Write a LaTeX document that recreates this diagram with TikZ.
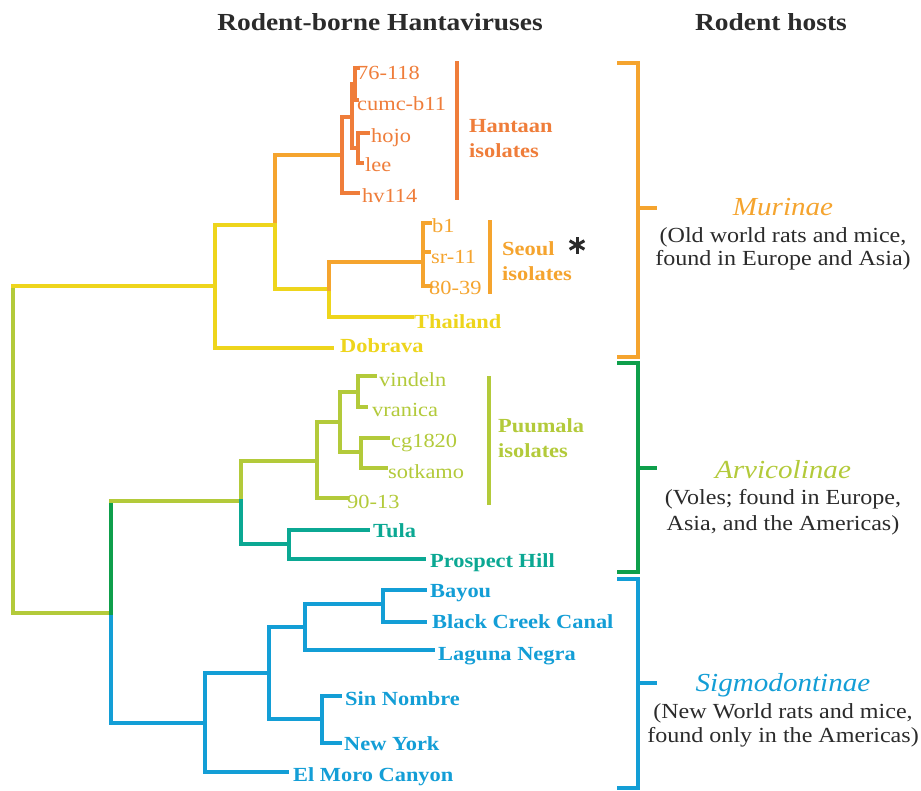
\documentclass[tikz,border=0pt]{standalone}
\usepackage{fontspec}
\setmainfont{Liberation Serif}[FakeStretch=1.12]
\usetikzlibrary{calc}
\definecolor{hant}{HTML}{EF7D3A}
\definecolor{seoul}{HTML}{F5A42E}
\definecolor{yel}{HTML}{EED51C}
\definecolor{ygr}{HTML}{B3CA3A}
\definecolor{dgr}{HTML}{0E9F4B}
\definecolor{tealc}{HTML}{0BA893}
\definecolor{sig}{HTML}{139ED6}
\definecolor{txt}{HTML}{2B2B2B}
\begin{document}
\begin{tikzpicture}[x=1pt,y=-1pt,
  br/.style={line width=3.2pt, line cap=rect},
  lab/.style={anchor=base west, inner sep=0pt, font=\fontsize{20}{20}\selectfont},
  blab/.style={anchor=base west, inner sep=0pt, font=\fontsize{20}{20}\selectfont\bfseries},
  head/.style={anchor=base, inner sep=0pt, text=txt, font=\fontsize{24.5}{24.5}\selectfont\bfseries},
  fam/.style={anchor=base, inner sep=0pt, font=\fontsize{26}{26}\selectfont\itshape},
  sub/.style={anchor=base, inner sep=0pt, text=txt, font=\fontsize{21.5}{21.5}\selectfont}]
\useasboundingbox (0,0) rectangle (921,790);
\fill[white] (0,0) rectangle (921,790);
% headers
\node[head] (h1) at (380,30) {Rodent-borne Hantaviruses};
\node[head] (h2) at (771,30) {Rodent hosts};
% internal nodes
\coordinate (rt) at (13,286);
\coordinate (rb) at (13,613);
\coordinate (M) at (215,286);
\coordinate (HS) at (275,225);
\coordinate (H) at (342,155);
\coordinate (H1) at (352,117);
\coordinate (H2) at (355,84);
\coordinate (H3) at (358,148);
\coordinate (ST) at (329,289);
\coordinate (Se) at (423,262);
\coordinate (AS) at (111,613);
\coordinate (Arv) at (241,501);
\coordinate (Pu) at (317,461);
\coordinate (P1) at (340,422);
\coordinate (P2) at (358,392);
\coordinate (P3) at (361,452);
\coordinate (TP) at (289,544);
\coordinate (Sig) at (205,723);
\coordinate (S1) at (269,673);
\coordinate (S2) at (305,627);
\coordinate (S3) at (322,719);
\coordinate (S4) at (383,604);
% leaf ends
\coordinate (e1) at (358,68);
\coordinate (e2) at (357,100);
\coordinate (e3) at (368,133);
\coordinate (e4) at (362,163);
\coordinate (e5) at (358,193);
\coordinate (e6) at (430,223);
\coordinate (e7) at (429,252);
\coordinate (e8) at (430,286);
\coordinate (e9) at (412,317);
\coordinate (e10) at (332,348);
\coordinate (e11) at (375,376);
\coordinate (e12) at (366,407);
\coordinate (e13) at (388,438);
\coordinate (e14) at (386,468);
\coordinate (e15) at (347,498);
\coordinate (e16) at (368,530);
\coordinate (e17) at (424,559);
\coordinate (e18) at (425,590);
\coordinate (e19) at (425,622);
\coordinate (e20) at (433,650);
\coordinate (e21) at (340,696);
\coordinate (e22) at (340,743);
\coordinate (e23) at (287,772);
% tree
\draw[br,ygr] (rt) -- (rb);
\draw[br,yel] (rt) -- (M);
\draw[br,ygr] (rb) -- (AS);
\draw[br,yel] (M) |- (HS);
\draw[br,yel] (M) |- (e10);
\draw[br,seoul] (HS) |- (H);
\draw[br,yel] (HS) |- (ST);
\draw[br,hant] (H) |- (H1);
\draw[br,hant] (H) |- (e5);
\draw[br,hant] (H1) |- (H2);
\draw[br,hant] (H1) |- (H3);
\draw[br,hant] (H2) |- (e1);
\draw[br,hant] (H2) |- (e2);
\draw[br,hant] (H3) |- (e3);
\draw[br,hant] (H3) |- (e4);
\draw[br,yel] (ST) |- (e9);
\draw[br,seoul] (ST) |- (Se);
\draw[br,seoul] (Se) |- (e6);
\draw[br,seoul] (Se) |- (e7);
\draw[br,seoul] (Se) |- (e8);
\draw[br,sig] (AS) |- (Sig);
\draw[br,dgr] (AS) -- (AS |- Arv);
\draw[br,ygr] (AS |- Arv) -- (Arv);
\draw[br,ygr] (Arv) |- (Pu);
\draw[br,tealc] (Arv) |- (TP);
\draw[br,ygr] (Pu) |- (P1);
\draw[br,ygr] (Pu) |- (e15);
\draw[br,ygr] (P1) |- (P2);
\draw[br,ygr] (P1) |- (P3);
\draw[br,ygr] (P2) |- (e11);
\draw[br,ygr] (P2) |- (e12);
\draw[br,ygr] (P3) |- (e13);
\draw[br,ygr] (P3) |- (e14);
\draw[br,tealc] (TP) |- (e16);
\draw[br,tealc] (TP) |- (e17);
\draw[br,sig] (Sig) |- (S1);
\draw[br,sig] (Sig) |- (e23);
\draw[br,sig] (S1) |- (S2);
\draw[br,sig] (S1) |- (S3);
\draw[br,sig] (S2) |- (S4);
\draw[br,sig] (S2) |- (e20);
\draw[br,sig] (S4) |- (e18);
\draw[br,sig] (S4) |- (e19);
\draw[br,sig] (S3) |- (e21);
\draw[br,sig] (S3) |- (e22);
% leaf labels
\node[lab,text=hant] (l1) at (357,79) {76-118};
\node[lab,text=hant] (l2) at (357,110) {cumc-b11};
\node[lab,text=hant] (l3) at (371,142) {hojo};
\node[lab,text=hant] (l4) at (365,171) {lee};
\node[lab,text=hant] (l5) at (362,202) {hv114};
\node[lab,text=seoul] (l6) at (432,232) {b1};
\node[lab,text=seoul] (l7) at (431,263) {sr-11};
\node[lab,text=seoul] (l8) at (429,294) {80-39};
\node[blab,text=yel] (l9) at (414,328) {Thailand};
\node[blab,text=yel] (l10) at (340,352) {Dobrava};
\node[lab,text=ygr] (l11) at (379,386) {vindeln};
\node[lab,text=ygr] (l12) at (372,416) {vranica};
\node[lab,text=ygr] (l13) at (391,447) {cg1820};
\node[lab,text=ygr] (l14) at (388,478) {sotkamo};
\node[lab,text=ygr] (l15) at (347,508) {90-13};
\node[blab,text=tealc] (l16) at (373,537) {Tula};
\node[blab,text=tealc] (l17) at (430,567) {Prospect Hill};
\node[blab,text=sig] (l18) at (430,597) {Bayou};
\node[blab,text=sig] (l19) at (432,628) {Black Creek Canal};
\node[blab,text=sig] (l20) at (438,660) {Laguna Negra};
\node[blab,text=sig] (l21) at (345,705) {Sin Nombre};
\node[blab,text=sig] (l22) at (344,750) {New York};
\node[blab,text=sig] (l23) at (293,781) {El Moro Canyon};
% isolate bars
\draw[br,hant] (457,63) -- (457,198);
\node[blab,text=hant] (g1a) at (469,132) {Hantaan};
\node[blab,text=hant] (g1b) at (469,157) {isolates};
\draw[br,seoul] (490,222) -- (490,292);
\node[blab,text=seoul] (g2a) at (502,255) {Seoul};
\node[blab,text=seoul] (g2b) at (502,280) {isolates};
\draw[br,ygr] (489,378) -- (489,503);
\node[blab,text=ygr] (g3a) at (498,432) {Puumala};
\node[blab,text=ygr] (g3b) at (498,457) {isolates};
% asterisk
\coordinate (ast) at (577,245);
\foreach \a in {90,30,-30}
  \draw[txt, line width=3pt] ($(ast)+(\a:8.5)$) -- ($(ast)+(\a+180:8.5)$);
% host brackets
\draw[br,seoul] (619,63) -- (638,63) -- (638,357) -- (619,357);
\draw[br,seoul] (638,208) -- (655,208);
\node[fam,text=seoul] (f1) at (783,215) {Murinae};
\node[sub] (f1a) at (783,242) {(Old world rats and mice,};
\node[sub] (f1b) at (783,265) {found in Europe and Asia)};
\draw[br,dgr] (619,363) -- (638,363) -- (638,572) -- (619,572);
\draw[br,dgr] (638,468) -- (655,468);
\node[fam,text=ygr] (f2) at (783,478) {Arvicolinae};
\node[sub] (f2a) at (783,504) {(Voles; found in Europe,};
\node[sub] (f2b) at (783,530) {Asia, and the Americas)};
\draw[br,sig] (619,579) -- (638,579) -- (638,788) -- (619,788);
\draw[br,sig] (638,683) -- (655,683);
\node[fam,text=sig] (f3) at (783,691) {Sigmodontinae};
\node[sub] (f3a) at (783,718) {(New World rats and mice,};
\node[sub] (f3b) at (783,742) {found only in the Americas)};
\end{tikzpicture}
\end{document}
